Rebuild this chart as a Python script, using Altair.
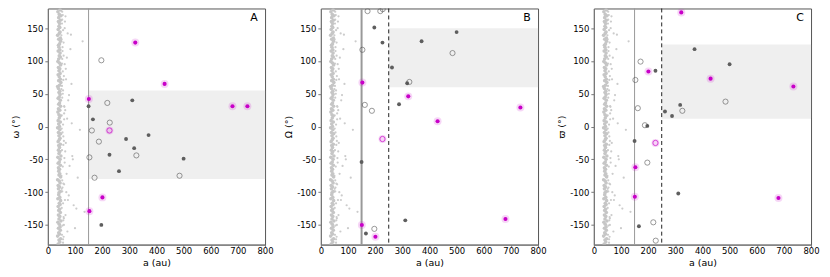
import altair as alt
import pandas as pd

# ---- objects (a > 150 au) ----
kind = ["m"] * 7 + ["mo"] + ["g"] * 10 + ["o"] * 9
a_obj = [322, 430, 151, 153, 680, 735, 201,
         227,
         150, 166, 311, 288, 318, 371, 227, 262, 500, 197,
         197, 219, 228, 162, 188, 153, 326, 172, 485]
omega = [128, 65, 42, -129, 31, 31, -108,
         -6,
         31, 11, 40, -19, -33, -13, -43, -68, -49, -150,
         101, 36, 6, -6, -23, -47, -44, -78, -75]
Omega = [46, 8, -150, 67, -141, 29, -168,
         -19,
         -54, -163, -143, 34, 66, 130, 128, 90, 144, 151,
         -156, 176, 179, 33, 24, 117, 68, 176, 112]
varpi = [174, 73, -107, -62, -109, 61, 84,
         -25,
         -22, -152, -102, 16, 33, 118, 85, 23, 95, 1,
         -55, -146, -174, 28, 2, 71, 24, 99, 38]

# ---- background small bodies ----
a_band = [38,44,41,47,36,43,40,46,39,45, 42,37,48,41,44,39,46,40,43,38,
          45,42,47,37,44,40,41,46,39,43, 38,45,42,36,47,41,44,40,43,39,
          46,38,42,45,37,48,41,44,39,43, 40,46,38,42,45,41,47,39,44,36,
          43,40,46,38,42,45,41,37,44,39, 47,40,43,46,38,42,45,41,44,39,
          36,43,48,40,46,42,38,45,41,44, 39,47,43,37,40,46,42,45,38,44,
          41,39,43,47,40,46,36,42,45,38, 44,41,43,39,46,40,48,42,37,45]
ang_band = [-179,-176,-173,-171,-167,-164,-162,-158,-155,-153,
            -149,-146,-144,-141,-137,-135,-131,-128,-126,-122,
            -119,-117,-113,-110,-108,-104,-101,-99,-95,-92,
            -90,-86,-83,-81,-77,-74,-72,-68,-65,-63,
            -59,-56,-54,-50,-47,-45,-41,-38,-36,-32,
            -29,-27,-23,-20,-18,-14,-11,-9,-5,-2,
            0,4,7,9,13,16,18,22,25,27,
            31,34,36,40,43,45,49,52,54,58,
            61,63,67,70,72,76,79,81,85,88,
            90,94,97,99,103,106,108,112,115,117,
            121,124,126,130,133,135,139,142,144,148,
            151,153,157,160,162,166,169,171,175,178]
a_sc = [55,62,58,70,66,52,75,60,88,57, 64,80,53,68,95,59,72,56,105,63,
        85,54,67,78,61,118,57,92,69,51, 74,65,100,58,83,62,128,56,71,90,
        60,77,53,110,66,87,59,73,135,64,
        50,53,56,51,54,58,52,55,57,50, 53,60,51,56,54,59,52,61,55,50,
        57,53,63,51,58,54,52,56,65,50, 53,59,55,51,62,54,57,52,56,60]
ang_sc = [170,150,128,105,88,62,40,20,5,-15, -38,-60,-82,-100,-120,-140,-160,-172,-125,160,
          140,115,72,48,30,-5,-28,-50,-72,-95, -112,-135,-155,-168,118,95,130,55,12,-45,
          -88,-105,175,-78,-25,65,-150,142,-130,25,
          176,163,147,133,121,108,96,84,71,57, 44,31,17,3,-9,-22,-36,-48,-61,-75,
          -87,-99,-112,-124,-138,-151,-165,-177,168,139, 103,77,50,-3,-55,-93,-143,157,-117,11]

W, H = 218, 237
MAG = "#c800c8"

obj = pd.DataFrame({"kind": kind, "a": a_obj, "omega": omega, "Omega": Omega, "varpi": varpi})
band = pd.DataFrame({"a": a_band, "ang": ang_band})
scat = pd.DataFrame({"a": a_sc, "ang": ang_sc})

xs = alt.Scale(domain=[0, 800], nice=False)
ys = alt.Scale(domain=[-180, 180], nice=False)
xax = alt.Axis(values=list(range(0, 801, 100)), title="a (au)", grid=False,
               tickSize=2, labelPadding=0, titlePadding=2, labelFlush=False)


def panel(col, ytitle, label, region, solid_w, dashed):
    yax = alt.Axis(values=[-150, -100, -50, 0, 50, 100, 150], title=ytitle, grid=False,
                   titlePadding=3, labelExpr="datum.value + ''", labelFlush=False)
    X = alt.X("a:Q", scale=xs, axis=xax)
    Y = alt.Y(f"{col}:Q", scale=ys, axis=yax)
    reg = pd.DataFrame([region], columns=["x1", "x2", "y1", "y2"])
    shade = alt.Chart(reg).mark_rect(color="#efefef").encode(
        x=alt.X("x1:Q", scale=xs, axis=xax), x2="x2:Q",
        y=alt.Y("y1:Q", scale=ys, axis=yax), y2="y2:Q")
    bandp = alt.Chart(band).mark_circle(color="#c6c6c6", size=13, opacity=1, clip=True).encode(
        x=alt.X("a:Q", scale=xs, axis=xax), y=alt.Y("ang:Q", scale=ys, axis=yax))
    scatp = alt.Chart(scat).mark_circle(color="#cccccc", size=5, opacity=1, clip=True).encode(
        x=alt.X("a:Q", scale=xs, axis=xax), y=alt.Y("ang:Q", scale=ys, axis=yax))
    layers = [shade, scatp, bandp]
    layers.append(alt.Chart(pd.DataFrame({"x": [150]})).mark_rule(
        color="#999999", strokeWidth=solid_w).encode(x=alt.X("x:Q", scale=xs, axis=xax)))
    if dashed:
        layers.append(alt.Chart(pd.DataFrame({"x": [250]})).mark_rule(
            color="#222222", strokeWidth=1, strokeDash=[4, 3]).encode(
            x=alt.X("x:Q", scale=xs, axis=xax)))
    src = alt.Chart(obj)
    layers += [
        src.transform_filter("datum.kind == 'm' || datum.kind == 'mo'").mark_circle(
            color=MAG, opacity=0.16, size=64, clip=True).encode(x=X, y=Y),
        src.transform_filter("datum.kind == 'g'").mark_circle(
            color="#5e5e5e", opacity=1, size=15, clip=True).encode(x=X, y=Y),
        src.transform_filter("datum.kind == 'o'").mark_point(
            shape="circle", color="#4a4a4a", filled=False, strokeWidth=0.8, size=27,
            clip=True).encode(x=X, y=Y),
        src.transform_filter("datum.kind == 'm'").mark_circle(
            color=MAG, opacity=1, size=17, clip=True).encode(x=X, y=Y),
        src.transform_filter("datum.kind == 'mo'").mark_point(
            shape="circle", color=MAG, filled=False, strokeWidth=1, size=28,
            clip=True).encode(x=X, y=Y),
        alt.Chart(pd.DataFrame({"t": [label]})).mark_text(
            fontSize=11, font="DejaVu Sans", align="center", baseline="middle",
            color="black").encode(x=alt.value(W - 11), y=alt.value(10), text="t:N"),
    ]
    return alt.layer(*layers).properties(width=W, height=H)


pA = panel("omega", "ω (°)", "A", [150, 800, -80, 55], 1, False)
pB = panel("Omega", "Ω (°)", "B", [250, 800, 60, 150], 2, True)
pC = panel("varpi", "ϖ (°)", "C", [250, 800, 12, 125], 1, True)

chart = alt.hconcat(pA, pB, pC, spacing=56, bounds="flush").properties(
    padding={"left": 2, "top": -2, "right": 2, "bottom": 2}
).configure_axis(
    labelFont="DejaVu Sans", titleFont="DejaVu Sans", labelFontSize=8.5, titleFontSize=9.5,
    titleFontWeight="normal", labelColor="black", titleColor="black",
    tickColor="#777777", domainColor="#777777", tickSize=3, labelPadding=2,
).configure_view(stroke="#555555", strokeWidth=1)

chart.save("out.html", embed_options={"renderer": "svg", "actions": False})
